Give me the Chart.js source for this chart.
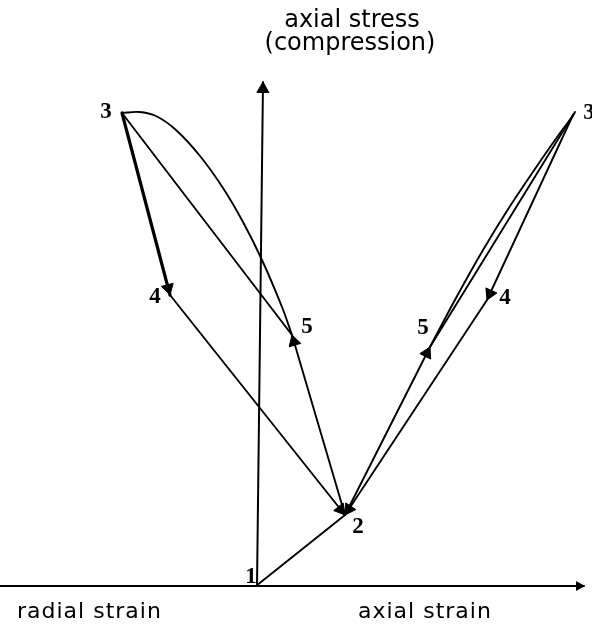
<!DOCTYPE html>
<html><head><meta charset="utf-8">
<script src="https://cdn.jsdelivr.net/npm/chart.js@4/dist/chart.umd.min.js"></script>
<style>html,body{margin:0;padding:0;background:#fff;}#wrap{width:592px;height:628px;}</style>
</head><body><div id="wrap"><canvas id="c" width="592" height="628"></canvas></div>
<script>
// ---- data (strain units, arbitrary; origin at state 1) ----
const pointLabels = ['1', '2', '3', '4', '5', '3', '4', '5'];
const pointX = [0, 89, -134, -86, 36, 317, 231, 174];   // radial strain (<0) / axial strain (>0)
const pointY = [0, 71, 473, 291, 251, 471, 286, 239];   // axial stress
// loading curve 5 -> 3, radial side
const curveLeftX = [36, 26, 6, -13, -33, -56, -80, -100, -117, -134];
const curveLeftY = [251, 279, 326, 364, 398, 430, 456, 470, 474, 473];
// loading curve 5 -> 3, axial side
const curveRightX = [174, 199.6, 226.3, 254.9, 285.4, 305.8, 316, 319, 317];
const curveRightY = [239, 287.3, 334.8, 381.2, 426.5, 455.5, 469, 474, 471];
// axes
const stressAxisX = [1, 7];
const stressAxisY = [0, 504];
const strainAxisX = [-256, 328];
const strainAxisY = [0, 0];
// straight paths between states (indices into point arrays)
const segments = [[0, 1], [2, 3], [3, 1], [2, 4], [1, 4], [5, 6], [6, 1], [1, 7], [7, 5]];
const arrows = [[2, 3], [1, 4], [3, 1], [5, 6], [1, 7], [6, 1]];
const titleLines = ['axial stress', '(compression)'];
const leftAxisLabel = 'radial strain';
const rightAxisLabel = 'axial strain';

// ---- build datasets ----
const P = i => ({x: pointX[i], y: pointY[i]});
const datasets = [];
datasets.push({data: strainAxisX.map((x, i) => ({x, y: strainAxisY[i]})), borderWidth: 2});
datasets.push({data: stressAxisX.map((x, i) => ({x, y: stressAxisY[i]})), borderWidth: 2});
segments.forEach(([a, b]) => {
  datasets.push({data: [P(a), P(b)], borderWidth: (a === 2 && b === 3) ? 3.2 : 1.9});
});
datasets.push({data: curveLeftX.map((x, i) => ({x, y: curveLeftY[i]})), borderWidth: 1.9, tension: 0.35});
datasets.push({data: curveRightX.map((x, i) => ({x, y: curveRightY[i]})), borderWidth: 1.9, tension: 0.3});

// arrowheads, placed so the tip lands on the end point
const R = 7;
const arrowPts = [], arrowRot = [], arrowRad = [];
function addArrow(from, to, r) {
  const dx = to.x - from.x, dy = to.y - from.y, L = Math.hypot(dx, dy);
  arrowPts.push({x: to.x - dx / L * r, y: to.y - dy / L * r});
  arrowRot.push(Math.atan2(dx, dy) * 180 / Math.PI);
  arrowRad.push(r);
}
arrows.forEach(([a, b]) => addArrow(P(a), P(b), R));
addArrow({x: stressAxisX[0], y: stressAxisY[0]}, {x: stressAxisX[1], y: stressAxisY[1]}, 7);
addArrow({x: strainAxisX[0], y: strainAxisY[0]}, {x: strainAxisX[1], y: strainAxisY[1]}, 5);
datasets.push({data: arrowPts, showLine: false, pointStyle: 'triangle', pointRadius: arrowRad,
  pointRotation: arrowRot, pointBackgroundColor: '#000', pointBorderColor: '#000', pointBorderWidth: 1});

datasets.forEach(d => {
  d.borderColor = d.borderColor || '#000';
  if (d.showLine === undefined) { d.showLine = true; d.pointRadius = 0; }
  d.fill = false; d.clip = false;
  d.borderCapStyle = 'round';
});

const labelOffsets = [[-5, -9], [13, 12], [-16, -1], [-15, 2], [15, -8], [16, -2], [18, -2], [-7, -19]];

const textPlugin = {
  id: 'texts',
  afterDatasetsDraw(chart) {
    const {ctx, scales: {x, y}} = chart;
    ctx.save();
    ctx.fillStyle = '#000';
    ctx.font = 'bold 23px "Liberation Serif", serif';
    ctx.textAlign = 'center';
    ctx.textBaseline = 'middle';
    pointLabels.forEach((t, i) => {
      ctx.fillText(t, x.getPixelForValue(pointX[i]) + labelOffsets[i][0], y.getPixelForValue(pointY[i]) + labelOffsets[i][1]);
    });
    ctx.textBaseline = 'alphabetic';
    ctx.font = '24px "DejaVu Sans", sans-serif';
    ctx.fillText(titleLines[0], 352, 27);
    ctx.fillText(titleLines[1], 350, 50);
    ctx.font = '22px "DejaVu Sans", sans-serif';
    ctx.letterSpacing = '1px';
    ctx.textAlign = 'left';
    ctx.fillText(leftAxisLabel, 17, 618);
    ctx.fillText(rightAxisLabel, 358, 618);
    ctx.restore();
  }
};

new Chart(document.getElementById('c'), {
  type: 'scatter',
  data: {datasets},
  options: {
    responsive: false, animation: false, events: [],
    layout: {padding: 0, autoPadding: false},
    plugins: {legend: {display: false}, tooltip: {enabled: false}},
    scales: {
      x: {type: 'linear', min: -256, max: 336, display: false},
      y: {type: 'linear', min: -42, max: 586, display: false}
    }
  },
  plugins: [textPlugin]
});
</script>
</body></html>
